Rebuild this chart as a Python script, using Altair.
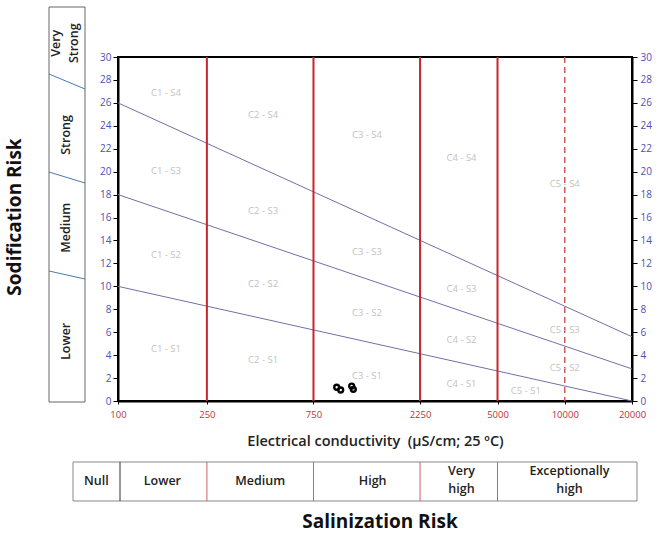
import altair as alt
import pandas as pd

# ---------------- data ----------------
ec_ticks = [100, 250, 750, 2250, 5000, 10000, 20000]
sar_ticks = list(range(0, 31, 2))

class_bounds = [250, 750, 2250, 5000]
dashed_bounds = [10000]

line_ec = [100, 20000]
line_s1 = [10, 0]
line_s2 = [18, 2.8]
line_s3 = [26, 5.6]

region_labels = ["C1 - S4", "C2 - S4", "C3 - S4", "C4 - S4", "C5 - S4",
                 "C1 - S3", "C2 - S3", "C3 - S3", "C4 - S3", "C5 - S3",
                 "C1 - S2", "C2 - S2", "C3 - S2", "C4 - S2", "C5 - S2",
                 "C1 - S1", "C2 - S1", "C3 - S1", "C4 - S1", "C5 - S1"]
region_ec = [164, 446, 1302, 3450, 10000,
             164, 446, 1302, 3450, 10000,
             164, 446, 1302, 3450, 10000,
             164, 446, 1302, 3450, 6700]
region_sar = [26.9, 24.9, 23.2, 21.2, 18.9,
              20.1, 16.6, 13.0, 9.8, 6.2,
              12.7, 10.2, 7.7, 5.3, 2.9,
              4.5, 3.6, 2.2, 1.5, 0.9]

sample_ec = [953, 993, 1112, 1131]
sample_sar = [1.2, 0.96, 1.3, 1.02]

sal_labels_1 = ["Null", "Lower", "Medium", "High"]
sal_ec_1 = [80, 158, 433, 1380]
sal_labels_2 = ["Very\nhigh", "Exceptionally\nhigh"]
sal_ec_2 = [3450, 10500]

sod_labels_1 = ["Strong", "Medium", "Lower"]
sod_sar_1 = [23.2, 15.1, 5.2]
sod_labels_2 = ["Very\nStrong"]
sod_sar_2 = [31.2]

x_title = "Electrical conductivity \u00a0(µS/cm; 25 ºC)"

# ---------------- layout / style ----------------
W, H = 514, 344
FONT = "Open Sans"
xs = alt.Scale(type="log", domain=[100, 20000], nice=False)
ys = alt.Scale(domain=[0, 30], nice=False, zero=False)
YLAB = "#4f4fb0"
XLAB = "#c0303a"

lines_df = pd.DataFrame({
    "ec": line_ec * 3,
    "sar": line_s1 + line_s2 + line_s3,
    "line": ["S1"] * 2 + ["S2"] * 2 + ["S3"] * 2,
})

x_axis = alt.Axis(values=ec_ticks, format="d", labelColor=XLAB, labelFontSize=9.5,
                  labelFont=FONT, labelFlush=False, labelPadding=5, tickSize=3,
                  tickColor="black", domainColor="black", domainWidth=2, grid=False,
                  title=x_title, titleFont=FONT,
                  titleFontSize=14.5, titleFontWeight=600, titleColor="#222",
                  titleY=40, titleBaseline="middle")


def y_axis(orient, pad):
    return alt.Axis(values=sar_ticks, labelColor=YLAB, labelFontSize=10, labelFont=FONT,
                    labelFlush=False, tickSize=5, labelPadding=pad, tickColor="black",
                    domainColor="black", domainWidth=2, grid=False, title=None,
                    orient=orient)


lines = alt.Chart(lines_df).mark_line(color="#7070aa", strokeWidth=1).encode(
    x=alt.X("ec:Q", scale=xs, axis=x_axis),
    y=alt.Y("sar:Q", scale=ys, axis=y_axis("left", 2)),
    detail="line:N",
)

right_axis = alt.Chart(lines_df).mark_point(opacity=0).encode(
    x=alt.X("ec:Q", scale=xs, axis=x_axis),
    y=alt.Y("sar:Q", scale=ys, axis=y_axis("right", 3)),
)

bounds = alt.Chart(pd.DataFrame({"ec": class_bounds})).mark_rule(
    color="#c8262c", strokeWidth=2).encode(x=alt.X("ec:Q", scale=xs, axis=x_axis))
dashed = alt.Chart(pd.DataFrame({"ec": dashed_bounds})).mark_rule(
    color="#d05a5a", strokeWidth=1.5, strokeDash=[6, 4]).encode(
    x=alt.X("ec:Q", scale=xs, axis=x_axis))

regions = alt.Chart(pd.DataFrame({"ec": region_ec, "sar": region_sar, "t": region_labels})
                    ).mark_text(font=FONT, fontSize=9.5, color="#c2c2c2").encode(
    x=alt.X("ec:Q", scale=xs, axis=x_axis),
    y=alt.Y("sar:Q", scale=ys, axis=None),
    text="t:N",
)

points = alt.Chart(pd.DataFrame({"ec": sample_ec, "sar": sample_sar})).mark_point(
    shape="circle", filled=False, color="black", strokeWidth=2.4, size=24, opacity=1).encode(
    x=alt.X("ec:Q", scale=xs, axis=x_axis),
    y=alt.Y("sar:Q", scale=ys, axis=None),
)

one = pd.DataFrame({"a": [0]})

# left "Sodification Risk" panel
sod_box = alt.Chart(one).mark_rect(fill="white", stroke="#666", strokeWidth=1).encode(
    x=alt.value(-69), x2=alt.value(-33), y=alt.value(-50), y2=alt.value(345))


def slant(y0, y1):
    return alt.Chart(one).mark_rule(color="#4a7aa8", strokeWidth=1).encode(
        x=alt.value(-69), x2=alt.value(-33), y=alt.value(y0), y2=alt.value(y1))


slants = [slant(17, 32), slant(115, 126), slant(214, 222)]

sod_text_1 = alt.Chart(pd.DataFrame({"t": sod_labels_1, "sar": sod_sar_1})).mark_text(
    font=FONT, fontSize=12.5, fontWeight=600, color="#222", angle=270,
    baseline="middle", align="center").encode(
    x=alt.value(-52),
    y=alt.Y("sar:Q", scale=ys, axis=None),
    text="t:N")
sod_text_2 = alt.Chart(pd.DataFrame({"t": sod_labels_2, "sar": sod_sar_2})).mark_text(
    font=FONT, fontSize=12.5, fontWeight=600, color="#222", angle=270, lineBreak="\n",
    baseline="middle", align="center", lineHeight=18).encode(
    x=alt.value(-62),
    y=alt.Y("sar:Q", scale=ys, axis=None),
    text="t:N")
sod_title = alt.Chart(one).mark_text(
    text="Sodification Risk", font=FONT, fontSize=19, fontWeight="bold", color="#111",
    angle=270, baseline="middle", align="center").encode(
    x=alt.value(-103), y=alt.value(160))

# bottom "Salinization Risk" panel
sal_box = alt.Chart(one).mark_rect(fill="white", stroke="#888", strokeWidth=1).encode(
    x=alt.value(-45), x2=alt.value(519), y=alt.value(405), y2=alt.value(444))
sal_div0 = alt.Chart(one).mark_rule(color="#333", strokeWidth=1).encode(
    x=alt.value(2), y=alt.value(405), y2=alt.value(444))
sal_divs = alt.Chart(pd.DataFrame({"ec": class_bounds})).mark_rule(
    color="#d06060", strokeWidth=1).encode(
    x=alt.X("ec:Q", scale=xs, axis=x_axis), y=alt.value(405), y2=alt.value(444))
sal_text_1 = alt.Chart(pd.DataFrame({"t": sal_labels_1, "ec": sal_ec_1})).mark_text(
    font=FONT, fontSize=12.5, fontWeight=600, color="#222",
    baseline="middle", align="center").encode(
    x=alt.X("ec:Q", scale=xs, axis=x_axis),
    y=alt.value(424),
    text="t:N")
sal_text_2 = alt.Chart(pd.DataFrame({"t": sal_labels_2, "ec": sal_ec_2})).mark_text(
    font=FONT, fontSize=12.5, fontWeight=600, color="#222", lineBreak="\n",
    baseline="middle", align="center", lineHeight=18).encode(
    x=alt.X("ec:Q", scale=xs, axis=x_axis),
    y=alt.value(414),
    text="t:N")
sal_title = alt.Chart(one).mark_text(
    text="Salinization Risk", font=FONT, fontSize=19, fontWeight="bold", color="#111",
    baseline="middle", align="center").encode(
    x=alt.value(262), y=alt.value(465))

chart = alt.layer(
    lines, right_axis, bounds, dashed, regions, points,
    sod_box, *slants, sod_text_1, sod_text_2, sod_title,
    sal_box, sal_div0, sal_divs, sal_text_1, sal_text_2, sal_title,
).resolve_scale(y="independent").properties(
    width=W, height=H,
    autosize=alt.AutoSizeParams(type="none"),
    padding={"left": 118, "top": 57, "right": 31, "bottom": 138},
).configure_view(stroke="black", strokeWidth=2)

chart.save("out.html", embed_options={"renderer": "svg", "actions": False})
